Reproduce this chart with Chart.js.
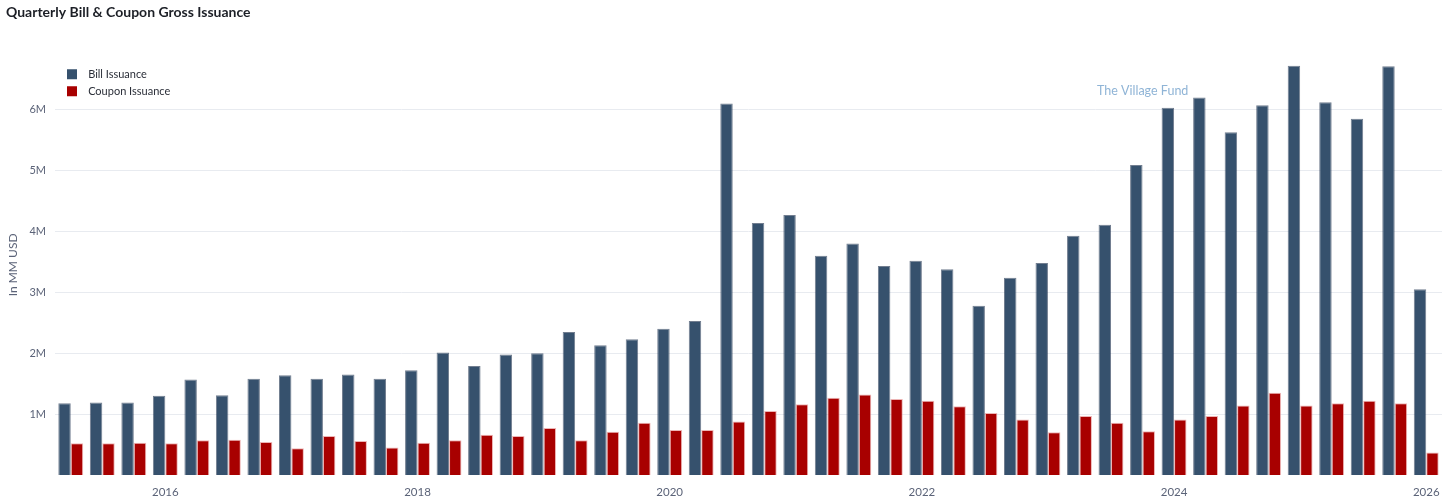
<!DOCTYPE html>
<html>
<head>
<meta charset="utf-8">
<script src="https://cdn.jsdelivr.net/npm/chart.js@4.4.1/dist/chart.umd.min.js"></script>
<style>
  html, body { margin: 0; padding: 0; background: #fff; }
  #wrap { position: relative; width: 1456px; height: 503px; }
  canvas { display: block; }
</style>
</head>
<body>
<div id="wrap"><canvas id="c" width="1456" height="503"></canvas></div>
<script>
const categories = [
  "2015 Q1","2015 Q2","2015 Q3","2015 Q4",
  "2016 Q1","2016 Q2","2016 Q3","2016 Q4",
  "2017 Q1","2017 Q2","2017 Q3","2017 Q4",
  "2018 Q1","2018 Q2","2018 Q3","2018 Q4",
  "2019 Q1","2019 Q2","2019 Q3","2019 Q4",
  "2020 Q1","2020 Q2","2020 Q3","2020 Q4",
  "2021 Q1","2021 Q2","2021 Q3","2021 Q4",
  "2022 Q1","2022 Q2","2022 Q3","2022 Q4",
  "2023 Q1","2023 Q2","2023 Q3","2023 Q4",
  "2024 Q1","2024 Q2","2024 Q3","2024 Q4",
  "2025 Q1","2025 Q2","2025 Q3","2025 Q4"
];
const billIssuance = [
  1.18, 1.19, 1.19, 1.30,
  1.57, 1.31, 1.58, 1.64,
  1.58, 1.65, 1.58, 1.72,
  2.01, 1.79, 1.98, 2.00,
  2.35, 2.13, 2.23, 2.40,
  2.53, 6.10, 4.14, 4.27,
  3.60, 3.80, 3.43, 3.52,
  3.38, 2.78, 3.24, 3.48,
  3.93, 4.11, 5.09, 6.03,
  6.20, 5.63, 6.07, 6.72,
  6.12, 5.85, 6.71, 3.05
];
const couponIssuance = [
  0.52, 0.52, 0.53, 0.52,
  0.57, 0.58, 0.54, 0.44,
  0.64, 0.56, 0.45, 0.53,
  0.57, 0.66, 0.64, 0.77,
  0.57, 0.71, 0.86, 0.74,
  0.74, 0.88, 1.05, 1.16,
  1.27, 1.32, 1.25, 1.22,
  1.13, 1.02, 0.91, 0.70,
  0.97, 0.86, 0.72, 0.91,
  0.97, 1.14, 1.35, 1.14,
  1.18, 1.22, 1.18, 0.37
];
const xTickLabels = ["2016", "2018", "2020", "2022", "2024", "2026"];
const yTickValues = [1, 2, 3, 4, 5, 6];

const FONT = "Lato, 'Source Sans Pro', 'Noto Sans', sans-serif";
const TICK_COLOR = "#5b6378";

const watermark = {
  id: "watermark",
  afterDraw(chart) {
    const ctx = chart.ctx;
    ctx.save();
    ctx.font = "12.5px " + FONT;
    ctx.fillStyle = "#8fb4d6";
    ctx.textAlign = "left";
    ctx.textBaseline = "middle";
    ctx.fillText("The Village Fund", 1097, 91);
    ctx.restore();
  }
};

// place the in-plot legend at the top-left of the chart area
const legendPlacer = {
  id: "legendPlacer",
  afterLayout(chart) {
    const lg = chart.legend;
    if (!lg) return;
    const h = lg.height;
    const w = lg.width;
    lg.top = chart.chartArea.top + 8;
    lg.bottom = lg.top + h;
    lg.left = chart.chartArea.left + 6;
    lg.right = lg.left + w;
  }
};

new Chart(document.getElementById("c"), {
  type: "bar",
  data: {
    labels: categories,
    datasets: [
      {
        label: "Bill Issuance",
        data: billIssuance,
        backgroundColor: "#36516d",
        borderColor: "rgba(20,40,70,0.6)",
        borderWidth: 1,
        categoryPercentage: 0.79,
        barPercentage: 1.0
      },
      {
        label: "Coupon Issuance",
        data: couponIssuance,
        backgroundColor: "#a80000",
        borderColor: "rgba(230,150,150,0.7)",
        borderWidth: 1,
        categoryPercentage: 0.79,
        barPercentage: 1.0
      }
    ]
  },
  options: {
    responsive: false,
    animation: false,
    devicePixelRatio: 1,
    layout: { padding: { left: 6, right: 14, top: 0, bottom: 0 } },
    plugins: {
      title: {
        display: true,
        text: "Quarterly Bill & Coupon Gross Issuance",
        align: "start",
        color: "#1c1f26",
        font: { family: FONT, size: 14, weight: "bold" },
        padding: { top: 4, bottom: 34 }
      },
      legend: {
        position: "chartArea",
        align: "start",
        labels: {
          boxWidth: 10,
          boxHeight: 10,
          padding: 6,
          color: "#2a2e38",
          font: { family: FONT, size: 11 },
          generateLabels(chart) {
            const items = Chart.defaults.plugins.legend.labels.generateLabels(chart);
            items.forEach(it => { it.text = "  " + it.text; it.lineWidth = 0; });
            return items;
          }
        }
      },
      tooltip: { enabled: false }
    },
    scales: {
      x: {
        grid: { display: false },
        border: { display: false },
        ticks: {
          autoSkip: false,
          maxRotation: 0,
          minRotation: 0,
          padding: 2,
          color: TICK_COLOR,
          font: { family: FONT, size: 11.5 },
          callback(value, index) {
            const c = categories[index];
            if (!c.endsWith("Q4")) return "";
            const nextYear = String(parseInt(c.slice(0, 4), 10) + 1);
            return xTickLabels.includes(nextYear) ? nextYear : "";
          }
        },
        afterFit(s) { s.height = 28; }
      },
      y: {
        min: 0,
        max: 6.9,
        grid: { color: "#e8ebf0", lineWidth: 1, drawTicks: false },
        border: { display: false },
        afterBuildTicks(s) { s.ticks = yTickValues.map(v => ({ value: v })); },
        ticks: {
          padding: 9,
          color: TICK_COLOR,
          font: { family: FONT, size: 11 },
          callback(v) { return v + "M"; }
        },
        title: {
          display: true,
          text: "In MM USD",
          color: TICK_COLOR,
          font: { family: FONT, size: 12 },
          padding: { top: 0, bottom: 0 }
        },
        afterFit(s) { s.width = 49; }
      }
    }
  },
  plugins: [watermark, legendPlacer]
});
</script>
</body>
</html>
